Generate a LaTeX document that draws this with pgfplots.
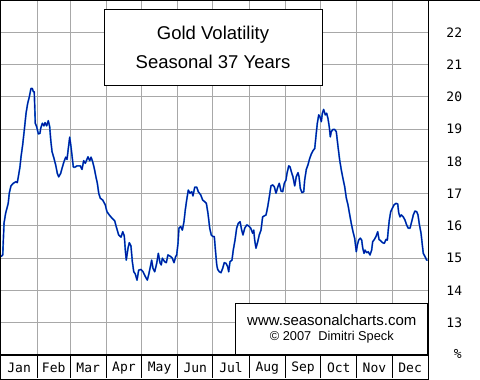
\documentclass[border=0pt]{standalone}
\usepackage{pgfplots}
\pgfplotsset{compat=1.18}
\usepackage{fontspec}
\setmainfont{Liberation Sans}
\newfontfamily\pixfont{DejaVu Sans Mono}
\definecolor{gridgray}{RGB}{168,168,168}
\definecolor{linecol}{RGB}{0,20,160}
\definecolor{halocol}{RGB}{40,150,220}

\pgfplotstableread{
d v
0.0 15.05
1.5 15.10
2.0 15.56
2.6 16.09
4.0 16.40
5.4 16.59
6.2 16.71
7.1 17.02
8.5 17.24
10.5 17.32
12.8 17.37
13.9 17.34
14.8 17.52
16.2 17.83
17.1 18.14
18.5 18.51
19.9 18.97
21.4 19.49
22.8 19.80
24.2 20.00
25.6 20.26
26.7 20.26
27.6 20.16
28.4 20.16
29.3 19.18
30.5 19.07
31.9 18.85
33.3 18.87
33.9 19.02
35.3 19.18
36.7 19.10
37.6 19.20
39.0 19.10
40.4 19.26
41.6 19.07
42.5 18.66
43.6 18.30
45.3 18.09
46.7 17.89
48.1 17.63
49.3 17.52
51.0 17.63
52.1 17.78
53.8 17.99
55.3 18.13
56.4 18.06
57.5 18.40
58.7 18.75
59.8 18.45
60.6 18.20
61.8 17.82
63.2 17.82
64.9 17.86
67.7 17.86
69.2 17.75
70.6 18.02
72.0 17.94
74.3 18.14
75.8 18.02
76.9 18.13
78.3 17.99
79.7 17.78
81.1 17.52
82.3 17.32
83.5 17.01
84.8 16.86
86.9 16.80
89.1 16.65
90.5 16.44
92.5 16.34
94.8 16.24
97.1 16.16
98.5 15.97
100.5 15.72
102.5 15.65
104.0 15.82
105.3 15.69
106.2 15.25
107.0 14.94
108.5 15.31
109.6 15.48
111.0 15.38
112.2 14.89
113.4 14.58
114.7 14.51
116.2 14.32
117.6 14.63
119.6 14.65
121.3 14.58
123.3 14.43
125.0 14.32
126.4 14.53
127.9 14.79
128.7 14.94
129.8 14.69
131.3 14.58
133.0 14.84
134.4 15.15
135.8 14.86
136.9 14.79
137.8 15.00
139.8 14.89
141.2 14.86
142.6 15.10
145.0 15.05
146.3 15.00
147.8 14.86
149.2 15.05
150.1 15.10
151.2 15.46
152.0 15.93
153.5 15.98
154.9 15.87
156.3 16.13
157.4 16.49
158.6 16.80
160.0 17.11
161.4 17.01
162.9 17.06
164.0 16.93
165.5 17.20
167.2 17.20
168.5 17.06
170.6 16.96
172.3 16.80
174.0 16.75
175.4 16.70
176.8 16.39
178.3 15.93
179.6 15.72
181.1 15.67
182.2 15.67
183.4 15.15
184.3 14.79
185.1 14.65
186.5 14.58
187.9 14.55
189.4 14.69
190.7 14.86
192.2 14.84
193.6 14.74
194.5 14.58
195.6 14.89
197.3 14.94
198.4 15.25
199.9 15.56
201.3 15.93
202.7 16.08
204.2 16.13
205.6 15.87
206.7 15.72
208.2 15.93
209.9 16.03
211.6 16.00
213.3 15.93
215.0 15.77
215.9 15.87
216.7 15.56
217.8 15.31
219.3 15.51
220.6 15.72
222.1 15.87
223.5 16.28
224.9 16.31
226.4 16.34
227.8 16.59
229.2 16.90
230.6 17.24
232.1 17.27
233.5 17.21
234.9 17.01
236.4 17.20
237.7 17.32
239.2 17.08
240.6 17.06
242.0 17.32
243.4 17.42
244.3 17.63
245.8 17.86
246.9 17.83
248.0 17.68
249.4 17.52
250.9 17.24
252.2 17.52
253.7 17.65
254.6 17.52
255.7 17.16
257.1 17.03
258.6 17.06
259.4 17.42
260.8 17.75
262.2 17.89
263.7 18.09
265.1 18.23
266.5 18.33
268.0 18.40
269.3 18.87
270.2 19.18
271.4 19.44
272.5 19.38
273.6 19.23
274.5 19.49
275.6 19.61
277.0 19.44
278.2 19.49
279.3 19.33
280.4 19.07
281.3 18.76
282.1 18.92
283.6 18.99
285.0 18.99
286.4 18.92
287.9 18.45
289.3 18.04
290.7 17.73
292.1 17.47
293.6 17.21
295.0 16.86
296.4 16.65
297.9 16.34
299.2 16.08
300.7 15.82
302.1 15.62
303.5 15.20
304.4 15.41
305.5 15.56
306.9 15.62
308.1 15.56
309.0 15.31
310.1 15.15
310.9 15.25
312.4 15.17
313.7 15.20
315.2 15.10
316.6 15.25
317.5 15.51
318.9 15.58
320.3 15.67
321.8 15.82
322.9 15.58
324.3 15.54
326.0 15.48
327.4 15.46
328.9 15.58
330.0 15.56
330.8 15.87
331.7 16.18
332.9 16.44
334.2 16.54
335.7 16.65
337.4 16.70
338.9 16.68
339.7 16.41
340.8 16.28
341.9 16.34
343.6 16.28
345.1 16.18
346.5 16.03
347.9 15.93
349.4 15.93
350.8 16.13
352.2 16.34
353.6 16.46
355.1 16.44
356.2 16.34
357.3 16.06
358.8 15.77
359.9 15.41
360.7 15.15
362.2 15.05
363.6 14.94
364.5 14.94
}\goldvol

\begin{document}
\begin{tikzpicture}[x=1pt,y=1pt]
\fill[white] (0,0) rectangle (480,380);
\useasboundingbox (0,0) rectangle (480,380);
\begin{axis}[
  name=ax,
  at={(1pt,25pt)}, anchor=south west,
  scale only axis, width=427.3pt, height=355pt,
  xmin=0, xmax=365, ymin=12, ymax=23,
  xtick={15.5,45,74.5,105,135.5,166,196.5,227.5,258,288.5,319,349.5},
  xticklabels={Jan,Feb,Mar,Apr,May,Jun,Jul,Aug,Sep,Oct,Nov,Dec},
  minor xtick={31,59,90,120,151,181,212,243,273,304,334},
  xminorgrids,
  minor grid style={gridgray, line width=1pt},
  extra x ticks={0,31,59,90,120,151,181,212,243,273,304,334,365},
  extra x tick labels={},
  extra x tick style={grid=none, tick align=outside, major tick length=23pt,
     tick style={black, line width=1pt}},
  xtick pos=lower,
  ytick={13,14,15,16,17,18,19,20,21,22},
  ymajorgrids,
  major grid style={gridgray, line width=1pt},
  yticklabel pos=right,
  ytick pos=right,
  major tick length=0pt, minor tick length=0pt,
  axis line style={black, line width=1pt},
  /pgf/number format/assume math mode=true,
  xticklabel style={font=\pixfont\fontsize{13}{13}\selectfont, anchor=center, yshift=-13pt, inner sep=0pt},
  yticklabel style={font=\pixfont\fontsize{13}{13}\selectfont, anchor=east, xshift=34pt, inner sep=0pt},
  clip=true,
]
\addplot[halocol, line width=1.7pt, line join=round, mark=none] table[x=d, y=v] {\goldvol};
\addplot[linecol, line width=1.1pt, line join=round, mark=none] table[x=d, y=v] {\goldvol};
\end{axis}
% title box and watermark box
\node[draw=black, line width=1pt, fill=white, minimum width=218pt, minimum height=76pt, inner sep=0pt] (tb) at (213,332) {};
\node[font=\fontsize{18.5}{18.5}\selectfont] at ([yshift=13.5pt]tb.center) {Gold Volatility};
\node[font=\fontsize{18.5}{18.5}\selectfont] at ([yshift=-13.5pt]tb.center) {Seasonal 37 Years};
\node[draw=black, line width=1pt, fill=white, minimum width=192pt, minimum height=51pt, inner sep=0pt, anchor=south east] (wm) at (428.3,25) {};
\node[font=\fontsize{15}{15}\selectfont] at ([yshift=8.7pt]wm.center) {www.seasonalcharts.com};
\node[font=\fontsize{12.8}{12.8}\selectfont] at ([yshift=-8.5pt]wm.center) {\textcopyright\ 2007\ \ Dimitri Speck};
% percent sign
\node[font=\pixfont\fontsize{13}{13}\selectfont, anchor=east, inner sep=0pt] at (462,26) {\%};
% frame
\draw[black, line width=2pt] (0,25) -- (428.3,25);
\draw[black, line width=1pt] (0,379.5) -- (480,379.5);
\draw[black, line width=1pt] (0.5,0) -- (0.5,380);
\draw[black, line width=1pt] (0,0.5) -- (428.3,0.5);
\draw[black, line width=1pt] (428.3,0) -- (428.3,380);
\end{tikzpicture}
\end{document}
